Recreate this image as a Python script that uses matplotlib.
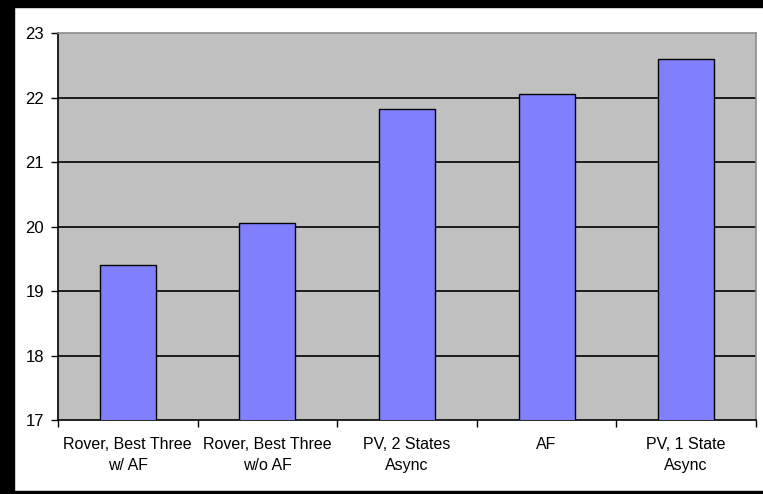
import matplotlib
matplotlib.use("Agg")
import matplotlib.pyplot as plt
from matplotlib.patches import Rectangle

categories = ["Rover, Best Three\nw/ AF", "Rover, Best Three\nw/o AF",
              "PV, 2 States\nAsync", "AF", "PV, 1 State\nAsync"]
values = [19.41, 20.05, 21.82, 22.05, 22.60]
y_ticks = [17, 18, 19, 20, 21, 22, 23]

plt.rcParams["font.family"] = ["Liberation Sans", "DejaVu Sans"]

W, H = 763, 494
fig = plt.figure(figsize=(W / 100, H / 100), dpi=100, facecolor="white")

# black frame bands around the figure
fig.patches.append(Rectangle((0, 1 - 7 / H), 1, 7 / H, transform=fig.transFigure,
                             color="black", zorder=0))
fig.patches.append(Rectangle((0, 0), 14 / W, 1, transform=fig.transFigure,
                             color="black", zorder=0))
fig.patches.append(Rectangle((0, 0), 1, 3 / H, transform=fig.transFigure,
                             color="black", zorder=0))

ax = fig.add_axes([58 / W, 74 / H, 698 / W, 387 / H])
ax.set_facecolor("#c0c0c0")

x = list(range(len(categories)))
ax.bar(x, values, width=0.4, bottom=0, color="#8080ff", edgecolor="black",
       linewidth=1.0, zorder=3)

ax.set_ylim(17, 23)
ax.set_xlim(-0.5, len(categories) - 0.5)
ax.set_yticks(y_ticks)
ax.set_yticklabels([str(t) for t in y_ticks], fontsize=12)
for t in y_ticks[1:-1]:
    ax.axhline(t, color="black", linewidth=1.2, zorder=1)

ax.set_xticks(x)
ax.set_xticklabels(categories, fontsize=11.5, linespacing=1.5)
ax.set_xticks([i - 0.5 for i in range(len(categories) + 1)], minor=True)
ax.tick_params(axis="x", which="major", length=0, pad=12)
ax.tick_params(axis="x", which="minor", length=5, width=1, color="black",
               direction="out")
ax.tick_params(axis="y", length=5, width=1, direction="out", pad=5)

for side in ("left", "bottom"):
    ax.spines[side].set_color("black")
    ax.spines[side].set_linewidth(1.2)
for side in ("top", "right"):
    ax.spines[side].set_color("#8c8c8c")
    ax.spines[side].set_linewidth(1.2)

fig.savefig("out.png", dpi=100, facecolor="white")
